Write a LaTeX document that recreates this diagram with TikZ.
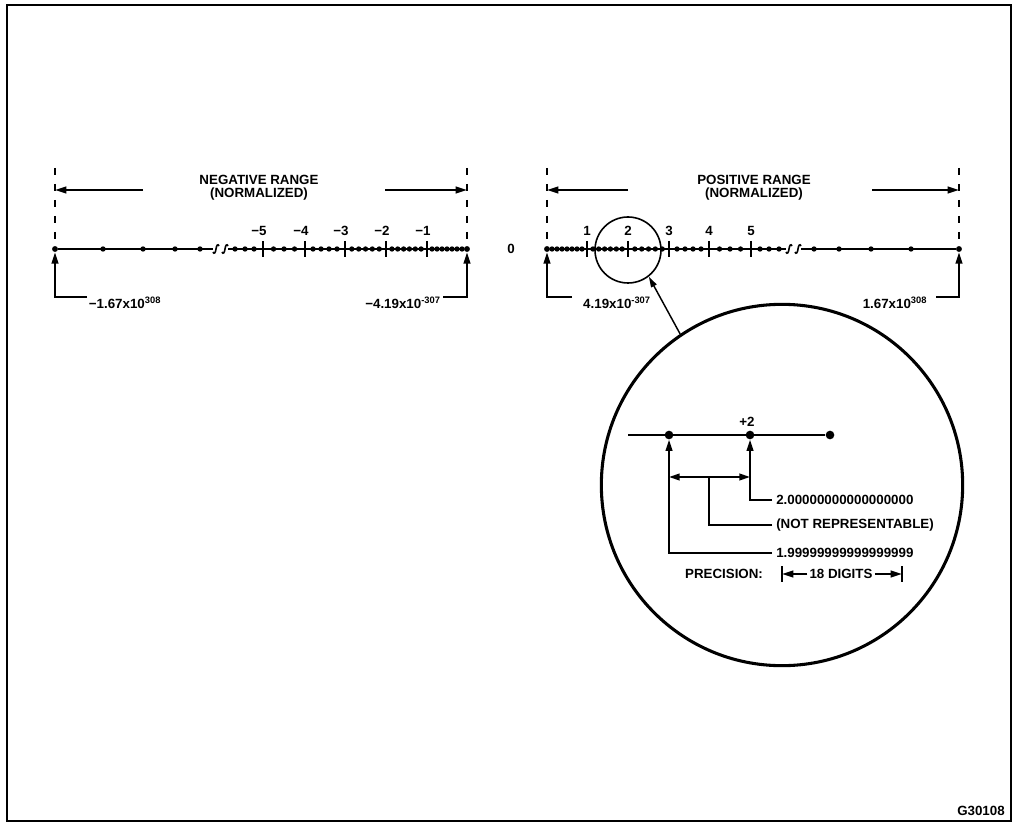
\documentclass[tikz,border=0pt]{standalone}
\usepackage{fontspec}
\setmainfont{Liberation Sans}
\usetikzlibrary{arrows.meta}
\begin{document}
\begin{tikzpicture}[x=0.75pt,y=-0.75pt,
  lbl/.style={font=\bfseries\fontsize{10}{10}\selectfont, inner sep=0pt},
  axis/.style={line width=1.5pt},
  dashv/.style={line width=1.6pt, dash pattern=on 5.25pt off 6.75pt},
  conn/.style={line width=1.5pt},
  arr/.style={line width=1.5pt, -{Triangle[length=8.5pt,width=5pt]}},
  darr/.style={line width=1.5pt, {Triangle[length=8pt,width=5pt]}-{Triangle[length=8pt,width=5pt]}},
  thinarr/.style={line width=1.1pt, -{Triangle[length=8pt,width=4.5pt]}},
  enddot/.style={circle, fill, inner sep=0pt, minimum size=4.4pt},
  bigdot/.style={circle, fill, inner sep=0pt, minimum size=6.5pt},
  brk/.pic={\draw[line width=1.2pt] (-3,3) .. controls (-2,5.5) and (-0.5,4) .. (0,0) .. controls (0.5,-4) and (2,-5.5) .. (3,-3);}
]
\useasboundingbox (0,0) rectangle (1013,823);
\draw[line width=1.7pt] (7,5) rectangle (1011,821);

% ---------- negative axis ----------
\node[enddot] (nL) at (55,249) {};
\node[enddot] (nR) at (467,249) {};
\draw[axis] (nL) -- (213,249);
\draw[axis] (228,249) -- (nR);
\pic at (216,249) {brk};
\pic at (225,249) {brk};
% ---------- positive axis ----------
\node[enddot] (pL) at (547,249) {};
\node[enddot] (pR) at (959,249) {};
\draw[axis] (pL) -- (786,249);
\draw[axis] (801,249) -- (pR);
\pic at (789,249) {brk};
\pic at (798,249) {brk};

\foreach \d in {5,10,15,20,25,30,35,45.9,51.7,57.6,63.4,69.3,75.1,87.8,94.7,101.5,108.3,115.2,130,138,146,154,172.5,183,193.5,213,222,232,267,292,324,364}{
  \fill ({467-\d},249) circle[radius=2pt];
  \fill ({547+\d},249) circle[radius=2pt];
}
\foreach \d/\n in {40/1,81/2,122/3,162/4,204/5}{
  \draw[conn] ({467-\d},241) -- ({467-\d},257);
  \draw[conn] ({547+\d},241) -- ({547+\d},257);
  \node[lbl] (nt\n) at ({463-\d},231) {−\n};
  \node[lbl] (pt\n) at ({547+\d},231) {\n};
}
\node[lbl] (zero) at (511,249) {0};

% ---------- dashed limits ----------
\foreach \x/\nm in {55/a,467/b,547/c,959/d}{
  \coordinate (top\nm) at (\x,168);
  \coordinate (mid\nm) at (\x,190);
}
\draw[dashv] (topa) -- (nL);
\draw[dashv] (topb) -- (nR);
\draw[dashv] (topc) -- (pL);
\draw[dashv] (topd) -- (pR);

% ---------- range arrows ----------
\coordinate (nA1) at (143,190);
\coordinate (nA2) at (385,190);
\coordinate (pA1) at (628,190);
\coordinate (pA2) at (872,190);
\draw[arr] (nA1) -- (mida);
\draw[arr] (nA2) -- (midb);
\draw[arr] (pA1) -- (midc);
\draw[arr] (pA2) -- (midd);
\node[lbl, align=center] (negr) at (259,188) {NEGATIVE RANGE\\(NORMALIZED)};
\node[lbl, align=center] (posr) at (754,188) {POSITIVE RANGE\\(NORMALIZED)};

% ---------- limit brackets ----------
\coordinate (nLh) at (87,297);
\coordinate (nRh) at (443,297);
\coordinate (pLh) at (572,297);
\coordinate (pRh) at (936,297);
\draw[arr] (nLh) -| (nL.south);
\draw[arr] (nRh) -| (nR.south);
\draw[arr] (pLh) -| (pL.south);
\draw[arr] (pRh) -| (pR.south);
\node[lbl] (nmax) at (125,303) {−1.67x10\textsuperscript{308}};
\node[lbl] (nmin) at (403,303) {−4.19x10\textsuperscript{-307}};
\node[lbl] (pmin) at (617,303) {4.19x10\textsuperscript{-307}};
\node[lbl] (pmax) at (895,303) {1.67x10\textsuperscript{308}};

% ---------- magnifier ----------
\node[circle, draw, line width=1.2pt, minimum size=49.5pt, inner sep=0pt] (small) at (628,250) {};
\node[circle, draw, line width=2.3pt, minimum size=271pt, inner sep=0pt] (big) at (782,485) {};
\draw[thinarr] (big.124) -- (small.-52);

\coordinate (ls) at (628,435);
\node[bigdot] (d1) at (669,435) {};
\node[bigdot] (d2) at (750,435) {};
\node[bigdot] (d3) at (830,435) {};
\draw[conn] (ls) -- (d3);
\node[lbl] (plus2) at (747,422) {+2};

\node[lbl, anchor=west] (l2000) at (776,500) {2.00000000000000000};
\node[lbl, anchor=west] (lnr) at (776,525) {(NOT REPRESENTABLE)};
\node[lbl, anchor=west] (l1999) at (776,553) {1.99999999999999999};
\draw[arr] ([xshift=-3pt]l2000.west) -| (d2.south);
\draw[arr] ([xshift=-3pt]l1999.west) -| (d1.south);
\coordinate (da1) at (669,477);
\coordinate (da2) at (750,477);
\coordinate (dm) at (709,477);
\draw[darr] (da1) -- (da2);
\draw[conn] ([xshift=-3pt]lnr.west) -| (dm);

\node[lbl] (prec) at (724,574) {PRECISION:};
\node[lbl] (dig) at (841,574) {18 DIGITS};
\coordinate (b1t) at (782,566);
\coordinate (b1b) at (782,582);
\coordinate (b2t) at (902,566);
\coordinate (b2b) at (902,582);
\coordinate (b1) at (782,574);
\coordinate (b2) at (902,574);
\draw[conn] (b1t) -- (b1b);
\draw[conn] (b2t) -- (b2b);
\draw[arr] ([xshift=-1.5pt]dig.west) -- (b1);
\draw[arr] ([xshift=1.5pt]dig.east) -- (b2);

\node[lbl] (gid) at (981,811) {G30108};
\end{tikzpicture}
\end{document}
